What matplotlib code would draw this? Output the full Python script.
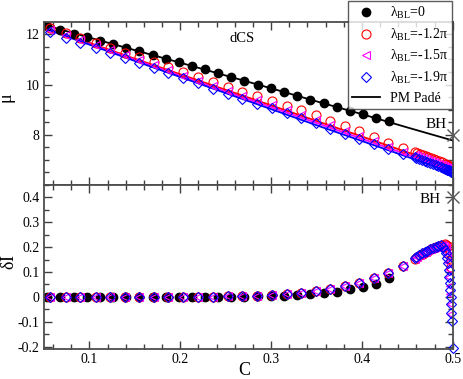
import matplotlib
matplotlib.use("Agg")
import matplotlib.pyplot as plt
from matplotlib.lines import Line2D
from matplotlib.ticker import MultipleLocator, FixedLocator, FuncFormatter

plt.rcParams['font.family'] = ['Liberation Serif', 'DejaVu Serif']
plt.rcParams['mathtext.fontset'] = 'custom'
plt.rcParams['mathtext.rm'] = 'Liberation Serif'
plt.rcParams['mathtext.it'] = 'Liberation Serif:italic'
plt.rcParams['axes.unicode_minus'] = False

# lambda_BL = 0 (filled circles)
c_black = [0.0536, 0.0679, 0.0826, 0.0969, 0.1112, 0.1258, 0.1401, 0.1547, 0.1695,
           0.1838, 0.1984, 0.2126, 0.2273, 0.2415, 0.2558, 0.2705, 0.2852, 0.2998,
           0.3141, 0.3288, 0.3431, 0.3577, 0.3720, 0.3866, 0.4009, 0.4156, 0.4302]
mu_black = [12.34, 12.18, 12.02, 11.89, 11.73, 11.61, 11.46, 11.32, 11.17,
            11.02, 10.88, 10.74, 10.60, 10.46, 10.32, 10.16, 10.00, 9.85,
            9.70, 9.54, 9.40, 9.25, 9.10, 8.96, 8.81, 8.68, 8.54]
dI_black = [0.0, 0.0, 0.0, 0.0, 0.0, 0.0, 0.0, 0.0, 0.0,
            0.0, 0.0, 0.0, 0.0, 0.0, 0.001, 0.001, 0.002, 0.003,
            0.004, 0.007, 0.010, 0.015, 0.021, 0.030, 0.038, 0.051, 0.074]

# open-symbol sequences, regular part (shared C grid)
c_open = [0.057, 0.074, 0.090, 0.107, 0.123, 0.139, 0.155, 0.171, 0.187, 0.203,
          0.219, 0.236, 0.252, 0.268, 0.285, 0.301, 0.317, 0.333, 0.349, 0.365,
          0.381, 0.397, 0.413, 0.429, 0.445]
mu_red = [12.27, 12.06, 11.87, 11.66, 11.47, 11.27, 11.08, 10.88, 10.69, 10.49,
          10.30, 10.10, 9.90, 9.70, 9.53, 9.34, 9.16, 8.97, 8.77, 8.55,
          8.34, 8.13, 7.90, 7.68, 7.48]
mu_mag = [12.18, 11.97, 11.77, 11.56, 11.36, 11.16, 10.96, 10.76, 10.56, 10.36,
          10.16, 9.95, 9.75, 9.55, 9.37, 9.17, 8.98, 8.78, 8.58, 8.37,
          8.16, 7.95, 7.74, 7.53, 7.33]
mu_blue = [12.08, 11.87, 11.67, 11.46, 11.27, 11.06, 10.86, 10.66, 10.46, 10.26,
           10.05, 9.84, 9.64, 9.44, 9.24, 9.06, 8.86, 8.66, 8.46, 8.24,
           8.03, 7.83, 7.63, 7.43, 7.24]
dI_open = [0.0, 0.0, 0.0, 0.0, 0.0, 0.0, 0.0, 0.0, 0.0, 0.0,
           0.0, 0.001, 0.002, 0.003, 0.004, 0.006, 0.010, 0.017, 0.024, 0.031,
           0.043, 0.057, 0.074, 0.097, 0.124]

# dense tails near C = 0.5
c_tail_red = [0.458, 0.461, 0.464, 0.467, 0.470, 0.473, 0.476, 0.479, 0.482, 0.485,
              0.488, 0.491, 0.493, 0.495, 0.496, 0.497, 0.4975, 0.498]
mu_tail_red = [7.30, 7.26, 7.22, 7.18, 7.14, 7.10, 7.06, 7.02, 6.98, 6.94,
               6.90, 6.85, 6.82, 6.78, 6.75, 6.72, 6.70, 6.68]
dI_tail_red = [0.152, 0.160, 0.167, 0.174, 0.180, 0.186, 0.191, 0.196, 0.201, 0.205,
               0.209, 0.212, 0.210, 0.203, 0.192, 0.175, 0.150, 0.120]

c_tail_mag = [0.458, 0.461, 0.464, 0.467, 0.470, 0.473, 0.476, 0.479, 0.482, 0.485,
              0.488, 0.490, 0.492, 0.493, 0.494, 0.495, 0.4955, 0.496, 0.4965, 0.497,
              0.4975, 0.498]
mu_tail_mag = [7.18, 7.14, 7.10, 7.06, 7.02, 6.98, 6.94, 6.90, 6.86, 6.82,
               6.78, 6.75, 6.72, 6.70, 6.68, 6.66, 6.65, 6.64, 6.63, 6.62,
               6.61, 6.60]
dI_tail_mag = [0.153, 0.161, 0.168, 0.175, 0.181, 0.187, 0.192, 0.197, 0.201, 0.205,
               0.208, 0.206, 0.198, 0.185, 0.165, 0.140, 0.110, 0.080, 0.045, 0.010,
               -0.030, -0.067]

c_tail_blue = [0.458, 0.460, 0.463, 0.466, 0.469, 0.472, 0.475, 0.478, 0.481, 0.484,
               0.487, 0.4895, 0.4915, 0.493, 0.494, 0.495, 0.4955, 0.496, 0.4965, 0.497,
               0.4975, 0.498, 0.4985, 0.499, 0.500]
mu_tail_blue = [7.10, 7.07, 7.03, 6.99, 6.95, 6.91, 6.87, 6.83, 6.79, 6.75,
                6.71, 6.68, 6.65, 6.63, 6.61, 6.60, 6.59, 6.58, 6.57, 6.56,
                6.55, 6.54, 6.53, 6.52, 6.51]
dI_tail_blue = [0.155, 0.162, 0.168, 0.175, 0.181, 0.186, 0.191, 0.196, 0.200, 0.205,
                0.208, 0.202, 0.190, 0.175, 0.155, 0.135, 0.108, 0.081, 0.054, 0.027,
                0.0, -0.030, -0.065, -0.098, -0.205]

# PM Pade curves
c_pade = [0.05, 0.10, 0.15, 0.20, 0.25, 0.30, 0.35, 0.40, 0.45, 0.50]
pade_black = [12.38, 11.87, 11.37, 10.87, 10.36, 9.85, 9.33, 8.82, 8.29, 7.77]
pade_red = [12.28, 11.66, 11.03, 10.41, 9.79, 9.17, 8.55, 7.93, 7.30, 6.70]
pade_mag = [12.26, 11.62, 10.99, 10.36, 9.73, 9.10, 8.47, 7.84, 7.21, 6.60]
pade_blue = [12.24, 11.59, 10.94, 10.30, 9.66, 9.02, 8.38, 7.75, 7.12, 6.50]

bh_c = 0.5
bh_mu = 8.0
bh_dI = 0.4

mu_ticks = [8, 10, 12]

legend_labels = [r'λ$_{\rm BL}$=0', r'λ$_{\rm BL}$=-1.2π', r'λ$_{\rm BL}$=-1.5π',
                 r'λ$_{\rm BL}$=-1.9π', 'PM Padé']

fig = plt.figure(figsize=(4.63, 3.79), dpi=100)
ax1 = fig.add_axes([0.095, 0.512, 0.883, 0.4305])
ax2 = fig.add_axes([0.095, 0.079, 0.883, 0.433])

red, mag, blue = '#ff0000', '#ff00ff', '#0000ff'
ms_b, ms_r, ms_m, ms_d = 6, 6.5, 5.5, 4.8

# top panel
ax1.plot(c_pade, pade_black, color='k', lw=1.3)
ax1.plot(c_pade, pade_red, color=red, lw=1.3)
ax1.plot(c_pade, pade_mag, color=mag, lw=1.3)
ax1.plot(c_pade, pade_blue, color=blue, lw=1.3)
ax1.plot(c_black, mu_black, 'o', color='k', ms=ms_b, ls='none')
ax1.plot(c_open + c_tail_red, mu_red + mu_tail_red, 'o', mfc='none', mec=red, mew=0.8, ms=ms_r, ls='none')
ax1.plot(c_open + c_tail_mag, mu_mag + mu_tail_mag, '<', mfc='none', mec=mag, mew=0.8, ms=ms_m, ls='none')
ax1.plot(c_open + c_tail_blue, mu_blue + mu_tail_blue, 'D', mfc='none', mec=blue, mew=0.8, ms=ms_d, ls='none')
ax1.plot([bh_c], [bh_mu], 'x', color='0.35', ms=9, mew=1.0, clip_on=False, zorder=5)
ax1.text(0.493, 8.42, 'BH', ha='right', va='center', fontsize=11)
ax1.text(0.268, 11.85, 'dCS', ha='center', va='center', fontsize=10.5)
ax1.set_xlim(0.05, 0.5)
ax1.set_ylim(6, 12.5)
ax1.yaxis.set_major_locator(FixedLocator(mu_ticks))
ax1.yaxis.set_minor_locator(MultipleLocator(0.5))
ax1.tick_params(labelbottom=False)
ax1.set_ylabel(r'$\bar{\mathrm{μ}}$', fontsize=13)

# bottom panel
ax2.plot(c_black, dI_black, 'o', color='k', ms=ms_b, ls='none')
ax2.plot(c_open + c_tail_red, dI_open + dI_tail_red, 'o', mfc='none', mec=red, mew=0.8, ms=ms_r, ls='none')
ax2.plot(c_open + c_tail_mag, dI_open + dI_tail_mag, '<', mfc='none', mec=mag, mew=0.8, ms=ms_m, ls='none')
ax2.plot(c_open + c_tail_blue, dI_open + dI_tail_blue, 'D', mfc='none', mec=blue, mew=0.8, ms=ms_d, ls='none', clip_on=False)
ax2.plot([bh_c], [bh_dI], 'x', color='0.35', ms=9, mew=1.0, clip_on=False, zorder=5)
ax2.text(0.487, 0.39, 'BH', ha='right', va='center', fontsize=11)
ax2.set_xlim(0.05, 0.5)
ax2.set_ylim(-0.21, 0.45)
ax2.yaxis.set_major_locator(MultipleLocator(0.1))
ax2.yaxis.set_minor_locator(MultipleLocator(0.05))
ax2.set_xlabel('C', fontsize=13)
ax2.set_ylabel(r'$\mathrm{δ}\bar{\mathrm{I}}$', fontsize=13)

fmt = FuncFormatter(lambda v, p: '%g' % round(v, 6))
for ax in (ax1, ax2):
    ax.xaxis.set_major_locator(MultipleLocator(0.1))
    ax.xaxis.set_minor_locator(MultipleLocator(0.02))
    ax.xaxis.set_major_formatter(fmt)
    ax.yaxis.set_major_formatter(fmt)
    ax.tick_params(which='both', direction='in', top=True, right=True,
                   labelsize=10, color='0.25', pad=3)
    ax.tick_params(which='major', length=6, width=1.0)
    ax.tick_params(which='minor', length=3.5, width=1.0)
    for s in ax.spines.values():
        s.set_color('0.3')
        s.set_linewidth(1.3)
    ax.yaxis.set_label_coords(-0.062, 0.53)
ax2.xaxis.set_label_coords(0.489, -0.08)

handles = [
    Line2D([], [], marker='o', color='k', ls='none', ms=ms_b),
    Line2D([], [], marker='o', mfc='none', mec=red, ls='none', ms=ms_r, mew=0.8),
    Line2D([], [], marker='<', mfc='none', mec=mag, ls='none', ms=ms_m, mew=0.8),
    Line2D([], [], marker='D', mfc='none', mec=blue, ls='none', ms=ms_d, mew=0.8),
    Line2D([], [], color='k', lw=1.3),
]
leg = fig.legend(handles, legend_labels, loc='upper right', bbox_to_anchor=(0.976, 0.998),
                 fontsize=10, frameon=True, fancybox=False, borderpad=0.3,
                 labelspacing=0.4, handlelength=2.0, handletextpad=0.7, borderaxespad=0)
leg.get_frame().set_edgecolor('0.2')
leg.get_frame().set_linewidth(1.0)

fig.savefig('out.png', dpi=100)
